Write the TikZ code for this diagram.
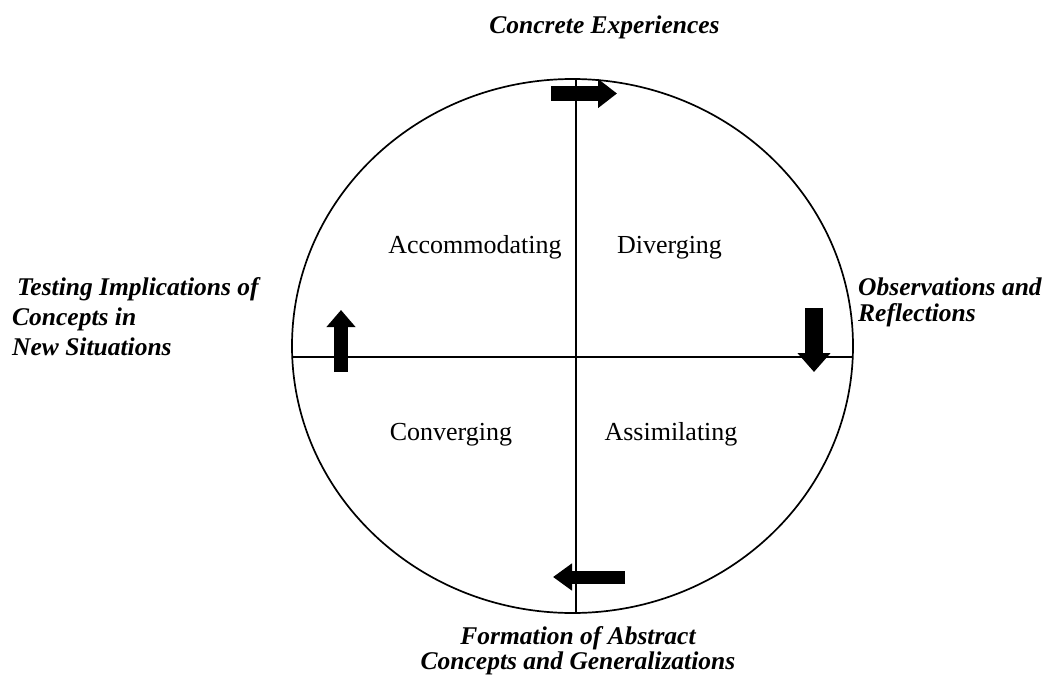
\documentclass[tikz,border=0pt]{standalone}
\usepackage{fontspec}
\setmainfont{Liberation Serif}
\usetikzlibrary{arrows.meta}

\begin{document}
\begin{tikzpicture}[x=1pt,y=-1pt,
    mode/.style={font=\fontsize{26}{30}\selectfont, inner sep=0pt, anchor=base},
    stage/.style={font=\fontsize{25.5}{30}\selectfont\bfseries\itshape, inner sep=0pt, anchor=base},
    flow/.style={line width=15pt, -{Triangle[length=19pt,width=28pt]}}
  ]
  \useasboundingbox (0,0) rectangle (1050,683);

  % cycle and its two axes
  \draw[line width=1.7pt] (572.5,346) ellipse [x radius=280.5pt, y radius=267pt];
  \coordinate (top)    at (576,79);
  \coordinate (bottom) at (576,613);
  \coordinate (left)   at (292.2,357);
  \coordinate (right)  at (852.8,357);
  \draw[line width=1.4pt] (top) -- (bottom)
                          (left) -- (right);

  % learning styles
  \node[mode] (accom)  at (475,253)   {Accommodating};
  \node[mode] (diverg) at (669.5,253) {Diverging};
  \node[mode] (converg) at (451,440)  {Converging};
  \node[mode] (assim)  at (671,440)   {Assimilating};

  % stages of the cycle (base = last line)
  \node[stage] (concrete) at (604.5,33) {Concrete Experiences};
  \node[stage, align=left, anchor=base west] (observ) at (858,321)
    {Observations and\\[-4pt] Reflections};
  \node[stage, align=center] (formation) at (578,669)
    {Formation of Abstract\\[-5pt] Concepts and Generalizations};
  \node[stage, align=left, anchor=base west] (testing) at (12,355)
    {\hspace*{5pt}Testing Implications of\\ Concepts in\\ New Situations};

  % direction of the cycle
  \draw[flow] (551,93.5) -- (617,93.5);
  \draw[flow, line width=18pt, -{Triangle[length=19pt,width=32pt]}] (814,308) -- (814,372);
  \draw[flow, line width=13pt, -{Triangle[length=19pt,width=26pt]}] (625,577) -- (553,577);
  \draw[flow, line width=14pt, -{Triangle[length=17pt,width=28pt]}] (341,372) -- (341,310);
\end{tikzpicture}
\end{document}
